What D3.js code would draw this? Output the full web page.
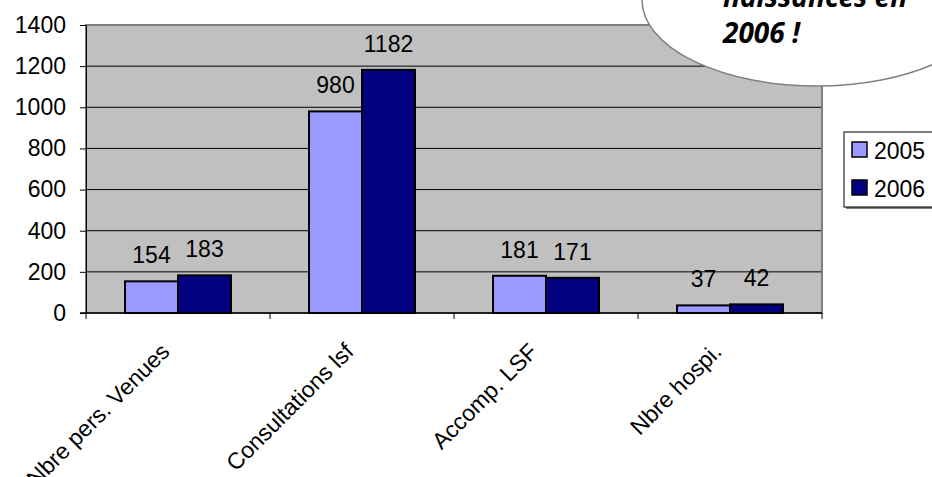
<!DOCTYPE html>
<html>
<head>
<meta charset="utf-8">
<style>
  body { margin: 0; background: #fff; }
  text { font-family: "Liberation Sans", Arial, sans-serif; }
</style>
</head>
<body>
<svg id="chart" width="932" height="477"></svg>
<script src="https://d3js.org/d3.v7.min.js"></script>
<script>
const categories = ["Nbre pers. Venues", "Consultations lsf", "Accomp. LSF", "Nbre hospi."];
const series = ["2005", "2006"];
const values2005 = [154, 980, 181, 37];
const values2006 = [183, 1182, 171, 42];
const yTicks = [0, 200, 400, 600, 800, 1000, 1200, 1400];
const colors = ["#9999FF", "#000080"];
const calloutLines = ["naissances en", "2006 !"];

const svg = d3.select("#chart");

const plotL = 86, plotR = 822, plotT = 25, plotB = 313;

const x = d3.scaleBand().domain(categories).range([plotL, plotR]);
const x1 = d3.scaleBand().domain(series).range([0, x.bandwidth()]).paddingOuter(0.736);
const y = d3.scaleLinear().domain([0, 1400]).range([plotB, plotT]);

// plot area
svg.append("rect")
    .attr("x", plotL).attr("y", plotT)
    .attr("width", plotR - plotL).attr("height", plotB - plotT)
    .style("fill", "#C0C0C0")
    .style("stroke", "#808080")
    .style("stroke-width", 2);

// gridlines
svg.append("g").selectAll("line")
    .data(yTicks.filter(d => d > 0 && d < 1400))
    .enter().append("line")
        .attr("x1", plotL).attr("x2", plotR - 1)
        .attr("y1", d => y(d)).attr("y2", d => y(d))
        .style("stroke", "#000")
        .style("stroke-width", 1);

// y axis
const yAxis = svg.append("g")
    .attr("transform", `translate(${plotL},0)`)
    .call(d3.axisLeft(y).tickValues(yTicks).tickFormat(d3.format("d")).tickSize(6).tickPadding(14));
yAxis.select(".domain").style("stroke", "#000");
yAxis.selectAll(".tick line").style("stroke", "#000");
yAxis.selectAll("text")
    .style("font-size", "23px")
    .style("font-family", "'Liberation Sans', Arial, sans-serif")
    .attr("fill", "#000");

// bars
const table = categories.map((c, i) => ({ cat: c, vals: [values2005[i], values2006[i]] }));
const groups = svg.append("g").selectAll("g")
    .data(table)
    .enter().append("g")
        .attr("transform", d => `translate(${x(d.cat)},0)`);

groups.selectAll("rect")
    .data(d => d.vals.map((v, j) => ({ s: series[j], v: v, j: j })))
    .enter().append("rect")
        .attr("x", d => x1(d.s))
        .attr("y", d => y(d.v))
        .attr("width", x1.bandwidth())
        .attr("height", d => plotB - y(d.v))
        .style("fill", d => colors[d.j])
        .style("stroke", "#000")
        .style("stroke-width", 2);

groups.selectAll("text")
    .data(d => d.vals.map((v, j) => ({ s: series[j], v: v })))
    .enter().append("text")
        .attr("x", d => x1(d.s) + x1.bandwidth() / 2)
        .attr("y", d => y(d.v) - 18)
        .attr("text-anchor", "middle")
        .style("font-size", "23px")
        .text(d => d.v);

// x axis
svg.append("line")
    .attr("x1", plotL - 6).attr("x2", plotR)
    .attr("y1", plotB).attr("y2", plotB)
    .style("stroke", "#000").style("stroke-width", 1.5);

svg.append("g").selectAll("line")
    .data(categories.map(c => x(c)).concat([plotR]))
    .enter().append("line")
        .attr("x1", d => d).attr("x2", d => d)
        .attr("y1", plotB).attr("y2", plotB + 6)
        .style("stroke", "#000");

svg.append("g").selectAll("text")
    .data(categories)
    .enter().append("text")
        .attr("transform", d => `translate(${x(d) + x.bandwidth() / 2 - 7},${plotB + 40}) rotate(-45)`)
        .attr("text-anchor", "end")
        .style("font-size", "23px")
        .text(d => d);

// legend
const legend = svg.append("g").attr("transform", "translate(844,132)");
legend.append("rect")
    .attr("x", 2).attr("y", 2).attr("width", 100).attr("height", 75)
    .style("fill", "#808080");
legend.append("rect")
    .attr("width", 100).attr("height", 75)
    .style("fill", "#fff").style("stroke", "#000");
series.forEach((s, i) => {
    legend.append("rect")
        .attr("x", 8).attr("y", 10 + i * 38)
        .attr("width", 15).attr("height", 15)
        .style("fill", colors[i]).style("stroke", "#000").style("stroke-width", 1.5);
    legend.append("text")
        .attr("x", 30).attr("y", 27 + i * 38)
        .style("font-size", "23px")
        .text(s);
});

// callout bubble
svg.append("ellipse")
    .attr("cx", 817).attr("cy", 0)
    .attr("rx", 175).attr("ry", 86)
    .style("fill", "#fff")
    .style("stroke", "#808080")
    .style("stroke-width", 1.5);

svg.append("g").selectAll("text")
    .data(calloutLines)
    .enter().append("text")
        .attr("x", 723)
        .attr("y", (d, i) => 7 + i * 36)
        .style("font-family", "'Open Sans', sans-serif")
        .style("font-weight", "bold")
        .style("font-style", "italic")
        .style("font-size", "28px")
        .text(d => d);
</script>
</body>
</html>
